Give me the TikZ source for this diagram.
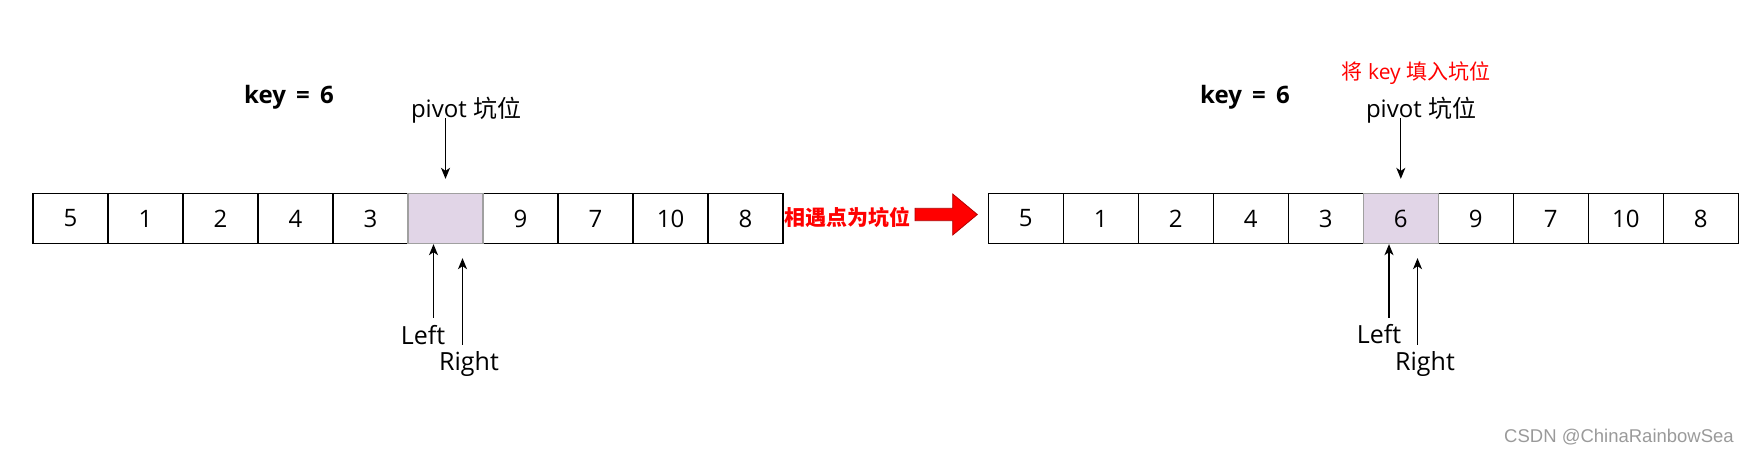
\documentclass[tikz,border=0pt]{standalone}
\usepackage{fontspec}
\setmainfont{Open Sans}
\newfontfamily\cjk{Noto Sans CJK SC}
\newfontfamily\wmfont{Liberation Sans}
\usetikzlibrary{arrows.meta}
\definecolor{holefill}{HTML}{E1D5E7}
\definecolor{holeline}{HTML}{A0A0A0}
\definecolor{arrowline}{HTML}{B20000}
\definecolor{wmgray}{HTML}{9A9A9A}
\begin{document}
\begin{tikzpicture}[x=1pt,y=-1pt,
  cell/.style={draw=black, line width=1.3pt, minimum width=75pt, minimum height=50pt, inner sep=0pt, font=\fontsize{24}{24}\selectfont},
  hole/.style={cell, draw=holeline, fill=holefill},
  ptr/.style={line width=1.3pt, -{Stealth[length=11pt,width=9pt,inset=3pt]}},
  lbl/.style={inner sep=0pt, font=\fontsize{24}{24}\selectfont},
  ptrlbl/.style={inner sep=0pt, font=\fontsize{25}{25}\selectfont},
  keylbl/.style={inner sep=0pt, font=\fontsize{24}{24}\selectfont\bfseries},
  redlbl/.style={inner sep=0pt, text=red, font=\fontsize{21}{21}\selectfont},
  redbold/.style={inner sep=0pt, text=red, font=\fontsize{21}{21}\cjk\bfseries},
  wm/.style={inner sep=0pt, text=wmgray, font=\fontsize{18.5}{18.5}\wmfont}]
\useasboundingbox (0,0) rectangle (1749,454);

% left array
\node[cell] (cL1) at (70.5,218.5) {5};
\node[cell] (cL2) at (145.5,218.5) {1};
\node[cell] (cL3) at (220.5,218.5) {2};
\node[cell] (cL4) at (295.5,218.5) {4};
\node[cell] (cL5) at (370.5,218.5) {3};
\node[cell] (cL7) at (520.5,218.5) {9};
\node[cell] (cL8) at (595.5,218.5) {7};
\node[cell] (cL9) at (670.5,218.5) {10};
\node[cell] (cL10) at (745.5,218.5) {8};
\node[hole] (cL6) at (445.5,218.5) {};

% right array
\node[cell] (cR1) at (1025.8,218.5) {5};
\node[cell] (cR2) at (1100.8,218.5) {1};
\node[cell] (cR3) at (1175.8,218.5) {2};
\node[cell] (cR4) at (1250.8,218.5) {4};
\node[cell] (cR5) at (1325.8,218.5) {3};
\node[cell] (cR7) at (1475.8,218.5) {9};
\node[cell] (cR8) at (1550.8,218.5) {7};
\node[cell] (cR9) at (1625.8,218.5) {10};
\node[cell] (cR10) at (1700.8,218.5) {8};
\node[hole] (cR6) at (1400.8,218.5) {6};

% labels left
\node[keylbl] (keyL) at (289,97) {key\,\ =\,\ 6};
\node[lbl] (pivL) at (466,110) {pivot {\cjk 坑位}};
\node[ptrlbl] (lftL) at (423,335) {Left};
\node[ptrlbl] (rgtL) at (469,364) {Right};

% labels right
\node[keylbl] (keyR) at (1245,97) {key\,\ =\,\ 6};
\node[redlbl] (fill) at (1416,73) {{\cjk 将} key {\cjk 填入坑位}};
\node[lbl] (pivR) at (1421,110) {pivot {\cjk 坑位}};
\node[ptrlbl] (lftR) at (1379,334) {Left};
\node[ptrlbl] (rgtR) at (1425,364) {Right};

% pointers left
\coordinate (pLs) at (445.5,118);
\draw[ptr] (pLs) -- ([yshift=14pt]cL6.north);
\coordinate (lLs) at (433.5,318);
\draw[ptr] (lLs) -- (lLs |- cL6.south);
\coordinate (rLs) at (462.5,345);
\draw[ptr] (rLs) -- ([yshift=-14pt]rLs |- cL6.south);

% pointers right
\coordinate (pRs) at (1400.8,118);
\draw[ptr] (pRs) -- ([yshift=14pt]cR6.north);
\coordinate (lRs) at (1389,318);
\draw[ptr] (lRs) -- (lRs |- cR6.south);
\coordinate (rRs) at (1417.5,345);
\draw[ptr] (rRs) -- ([yshift=-14pt]rRs |- cR6.south);

% middle
\node[redbold] (meet) at (847,217) {相遇点为坑位};
\fill[red, draw=arrowline, line width=0.8pt]
  (915,208.3) -- (952.7,208.3) -- (952.7,194) -- (977.3,214.5)
  -- (952.7,235) -- (952.7,220.7) -- (915,220.7) -- cycle;

% watermark
\node[wm, anchor=east] (mark) at (1734,437) {CSDN @ChinaRainbowSea};
\end{tikzpicture}
\end{document}
